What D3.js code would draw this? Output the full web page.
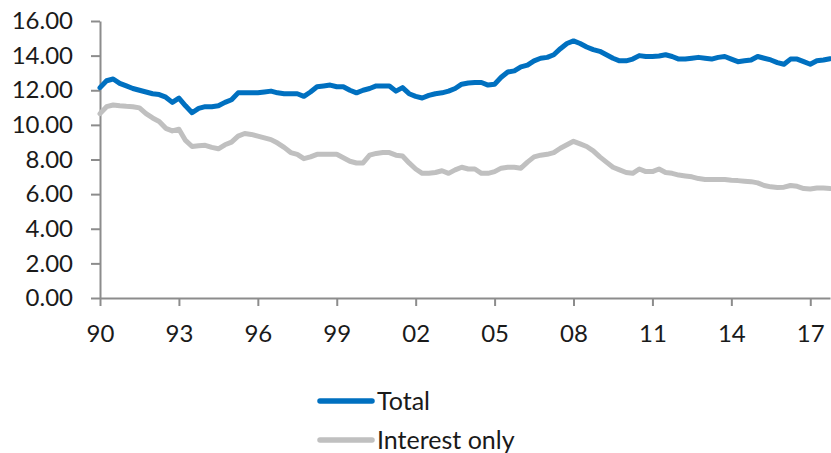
<!DOCTYPE html>
<html>
<head>
<meta charset="utf-8">
<script src="https://cdn.jsdelivr.net/npm/d3@7"></script>
<style>
  html, body { margin: 0; padding: 0; background: #fff; }
  svg { display: block; }
  text { font-family: "Lato", "Noto Sans", sans-serif; fill: #1a1a1a; }
</style>
</head>
<body>
<svg id="chart" width="831" height="453"></svg>
<script>
// Quarterly data, 1990Q1 .. 2017Q4
const tickYears = ["90", "93", "96", "99", "02", "05", "08", "11", "14", "17"];
const yTicks = [0, 2, 4, 6, 8, 10, 12, 14, 16];
const seriesNames = ["Total", "Interest only"];
const seriesColors = ["#0070c0", "#c0c0c0"];

const total = [
  12.15, 12.55, 12.65, 12.4, 12.25, 12.1, 12.0, 11.9, 11.8, 11.75,
  11.6, 11.3, 11.55, 11.1, 10.7, 10.95, 11.05, 11.05, 11.1, 11.3,
  11.45, 11.85, 11.85, 11.85, 11.85, 11.9, 11.95, 11.85, 11.8, 11.8,
  11.8, 11.65, 11.9, 12.2, 12.25, 12.3, 12.2, 12.2, 12.0, 11.85,
  12.0, 12.1, 12.25, 12.25, 12.25, 11.95, 12.15, 11.8, 11.65, 11.55,
  11.7, 11.8, 11.85, 11.95, 12.1, 12.35, 12.42, 12.45, 12.45, 12.3,
  12.35, 12.75, 13.05, 13.12, 13.35, 13.45, 13.7, 13.85, 13.9, 14.05,
  14.4, 14.7, 14.85, 14.7, 14.5, 14.35, 14.25, 14.05, 13.85, 13.7,
  13.7, 13.8, 14.0, 13.95, 13.95, 13.98, 14.05, 13.95, 13.8, 13.8,
  13.85, 13.9, 13.85, 13.8, 13.9, 13.95, 13.8, 13.65, 13.7, 13.75,
  13.95, 13.85, 13.75, 13.6, 13.5, 13.8, 13.8, 13.65, 13.5, 13.7,
  13.75, 13.82
];

const interestOnly = [
  10.65, 11.05, 11.15, 11.1, 11.07, 11.05, 10.98, 10.65, 10.4, 10.2,
  9.8, 9.65, 9.75, 9.1, 8.75, 8.8, 8.82, 8.7, 8.62, 8.85,
  9.0, 9.35, 9.5, 9.45, 9.35, 9.25, 9.15, 8.95, 8.7, 8.4,
  8.3, 8.05, 8.15, 8.3, 8.3, 8.3, 8.3, 8.1, 7.9, 7.8,
  7.8, 8.25, 8.35, 8.4, 8.4, 8.25, 8.2, 7.8, 7.45, 7.2,
  7.2, 7.25, 7.35, 7.2, 7.4, 7.55, 7.45, 7.45, 7.2, 7.2,
  7.3, 7.5, 7.55, 7.55, 7.5, 7.85, 8.15, 8.25, 8.3, 8.4,
  8.65, 8.85, 9.05, 8.9, 8.75, 8.5, 8.15, 7.85, 7.55, 7.4,
  7.25, 7.2, 7.45, 7.3, 7.3, 7.45, 7.25, 7.2, 7.1, 7.05,
  7.0, 6.9, 6.85, 6.85, 6.85, 6.85, 6.8, 6.78, 6.75, 6.72,
  6.65, 6.5, 6.42, 6.38, 6.4, 6.5, 6.45, 6.32, 6.3, 6.35,
  6.35, 6.32
];

const seriesData = [total, interestOnly];

const svg = d3.select("#chart");
const plot = { left: 100, right: 830, top: 21, bottom: 298 };

const x = d3.scaleLinear().domain([0, total.length - 1]).range([plot.left, plot.right]);
const y = d3.scaleLinear().domain([0, 16]).range([plot.bottom, plot.top]);

const axisColor = "#8c8c8c";

// Y axis
const yAxis = d3.axisLeft(y).tickValues(yTicks).tickFormat(d3.format(".2f"))
  .tickSize(9).tickSizeOuter(0).tickPadding(18);
const gy = svg.append("g").attr("transform", `translate(${plot.left},0)`).call(yAxis);
gy.selectAll("path.domain").attr("stroke", axisColor).attr("stroke-width", 2);
gy.selectAll(".tick line").attr("stroke", axisColor).attr("stroke-width", 2);
gy.selectAll(".tick text").style("font-size", "24px").attr("fill", "#1a1a1a");

// X axis
const xTickIdx = tickYears.map((_, i) => i * 12);
const xAxis = d3.axisBottom(x).tickValues(xTickIdx).tickFormat((d, i) => tickYears[i])
  .tickSize(8).tickSizeOuter(0).tickPadding(19);
const gx = svg.append("g").attr("transform", `translate(0,${plot.bottom})`).call(xAxis);
gx.selectAll("path.domain").attr("stroke", axisColor).attr("stroke-width", 2);
gx.selectAll(".tick line").attr("stroke", axisColor).attr("stroke-width", 2);
gx.selectAll(".tick text").style("font-size", "24px").attr("fill", "#1a1a1a");

// Lines
const line = d3.line().x((d, i) => x(i)).y(d => y(d));
[1, 0].forEach(k => {
  svg.append("path")
    .datum(seriesData[k])
    .attr("fill", "none")
    .attr("stroke", seriesColors[k])
    .attr("stroke-width", 5)
    .attr("stroke-linejoin", "round")
    .attr("stroke-linecap", "round")
    .attr("d", line);
});

// Legend
const legend = svg.append("g");
seriesNames.forEach((name, k) => {
  const ly = 401 + k * 39;
  legend.append("line")
    .attr("x1", 320).attr("x2", 372)
    .attr("y1", ly).attr("y2", ly)
    .attr("stroke", seriesColors[k])
    .attr("stroke-width", 5.5)
    .attr("stroke-linecap", "round");
  legend.append("text")
    .attr("x", 377).attr("y", ly)
    .attr("dy", "0.36em")
    .style("font-size", "25px")
    .text(name);
});
</script>
</body>
</html>
